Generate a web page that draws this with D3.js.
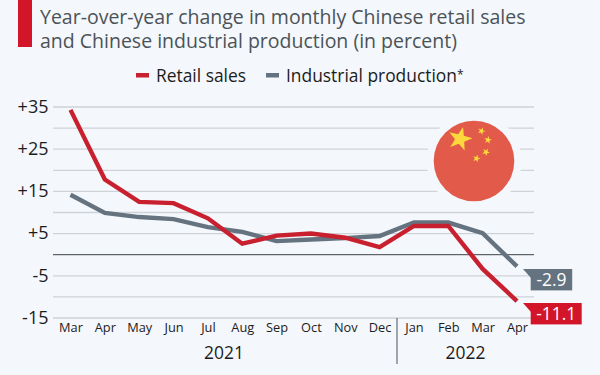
<!DOCTYPE html>
<html>
<head>
<meta charset="utf-8">
<script src="https://cdn.jsdelivr.net/npm/d3@7/dist/d3.min.js"></script>
<style>
  html, body { margin: 0; padding: 0; background: #f4f7fb; }
  svg { display: block; font-family: "Open Sans", sans-serif; }
  .domain { display: none; }
</style>
</head>
<body>
<svg id="chart"></svg>
<script>
const months = ['Mar', 'Apr', 'May', 'Jun', 'Jul', 'Aug', 'Sep', 'Oct', 'Nov', 'Dec', 'Jan', 'Feb', 'Mar', 'Apr'];
const retailSales = [34.2, 17.7, 12.4, 12.1, 8.5, 2.5, 4.4, 4.9, 3.9, 1.7, 6.7, 6.7, -3.5, -11.1];
const industrialProduction = [14.1, 9.8, 8.8, 8.3, 6.4, 5.3, 3.1, 3.5, 3.8, 4.3, 7.5, 7.5, 5.0, -2.9];
const gridTicks = [35, 30, 25, 20, 15, 10, 5, 0, -5, -10, -15];
const labelTicks = [35, 25, 15, 5, -5, -15];
const titleLines = ['Year-over-year change in monthly Chinese retail sales', 'and Chinese industrial production (in percent)'];

const RED = '#c8202f';
const GREY = '#64737f';
const width = 600, height = 375;

const svg = d3.select('#chart').attr('width', width).attr('height', height);

const xScale = d3.scaleLinear().domain([0, months.length - 1]).range([70.5, 517]);
const yScale = d3.scaleLinear().domain([-15, 35]).range([317.5, 106.5]);

// Title block
svg.append('rect').attr('x', 18).attr('y', 0).attr('width', 14).attr('height', 47).attr('fill', '#d3152a');
titleLines.forEach((t, i) => {
  svg.append('text')
    .attr('x', 40)
    .attr('y', 23.5 + i * 24)
    .attr('font-size', '19.5px')
    .attr('fill', '#4b5358')
    .text(t);
});

// Legend
const legend = [
  { label: 'Retail sales', color: RED, x: 136 },
  { label: 'Industrial production', color: GREY, x: 266, note: '*' }
];
legend.forEach(d => {
  svg.append('rect').attr('x', d.x).attr('y', 73).attr('width', 13).attr('height', 4.5).attr('fill', d.color);
  const label = svg.append('text')
    .attr('x', d.x + 20)
    .attr('y', 81.5)
    .attr('font-size', '17.4px')
    .attr('fill', '#1c1c1c')
    .text(d.label);
  if (d.note) {
    label.append('tspan').attr('font-size', '12px').attr('dy', -3).text(d.note);
  }
});

// Grid
svg.append('g')
  .attr('transform', 'translate(53, 0)')
  .call(d3.axisLeft(yScale).tickValues(gridTicks).tickSize(-481).tickFormat(''))
  .call(g => g.selectAll('.tick line')
    .attr('stroke', d => d === 0 ? '#3c4347' : '#cfd3d7')
    .attr('stroke-width', d => d === 0 ? 1 : 1.3));

// Y labels
svg.append('g')
  .attr('transform', 'translate(48.5, 0)')
  .call(d3.axisLeft(yScale).tickValues(labelTicks).tickSize(0).tickPadding(0)
    .tickFormat(d => d > 0 ? `+${d}` : `${d}`))
  .call(g => g.selectAll('text')
    .attr('font-family', '"Open Sans", sans-serif')
    .attr('font-size', '18px')
    .attr('fill', '#1c1c1c'));

// Month labels
svg.append('g')
  .attr('transform', 'translate(0, 322.5)')
  .call(d3.axisBottom(xScale).tickValues(d3.range(months.length)).tickSize(0).tickPadding(0)
    .tickFormat(i => months[i]))
  .call(g => g.selectAll('text')
    .attr('font-family', '"Open Sans", sans-serif')
    .attr('font-size', '12.8px')
    .attr('fill', '#1c1c1c'));

// Years
svg.append('line').attr('x1', 397).attr('x2', 397).attr('y1', 318).attr('y2', 364)
  .attr('stroke', '#4b5358').attr('stroke-width', 1);
[{ t: '2021', x: 224 }, { t: '2022', x: 465.5 }].forEach(d => {
  svg.append('text')
    .attr('x', d.x)
    .attr('y', 359)
    .attr('text-anchor', 'middle')
    .attr('font-size', '17.4px')
    .attr('fill', '#1c1c1c')
    .text(d.t);
});

// Flag
function star(cx, cy, r, rot) {
  const pts = d3.range(10).map(i => {
    const a = rot + i * Math.PI / 5;
    const rad = i % 2 ? r * 0.4 : r;
    return [cx + rad * Math.sin(a), cy - rad * Math.cos(a)];
  });
  return d3.line()(pts) + 'Z';
}
svg.append('circle').attr('cx', 474).attr('cy', 161).attr('r', 47.5).attr('fill', '#f4f7fb');
svg.append('circle').attr('cx', 474).attr('cy', 161).attr('r', 40.3).attr('fill', '#e25a49');
[
  [460, 139, 12.5, 0.25],
  [481.5, 131, 4, 0.4],
  [488, 140, 4, 0.2],
  [486, 152, 4, 0.5],
  [476.5, 158.5, 4, 0.3]
].forEach(s => {
  svg.append('path').attr('d', star(s[0], s[1], s[2], s[3])).attr('fill', '#fbd83b');
});

// Lines
const line = d3.line().x((d, i) => xScale(i)).y(d => yScale(d));
[{ v: industrialProduction, c: GREY }, { v: retailSales, c: RED }].forEach(s => {
  svg.append('path')
    .attr('d', line(s.v))
    .attr('fill', 'none')
    .attr('stroke', s.c)
    .attr('stroke-width', 4.4)
    .attr('stroke-linejoin', 'miter');
});

// End labels
const endTags = [
  { v: industrialProduction[13], c: GREY, w: 41.5, top: 269 },
  { v: retailSales[13], c: '#d3152a', w: 51, top: 303 }
];
endTags.forEach(d => {
  svg.append('rect').attr('x', 530.7).attr('y', d.top).attr('width', d.w).attr('height', 21.4).attr('fill', d.c);
  svg.append('path')
    .attr('d', `M523,${d.top}L531,${d.top}L531,${d.top + 9}Z`)
    .attr('fill', d.c);
  svg.append('text')
    .attr('x', 530.7 + d.w / 2)
    .attr('y', d.top + 17)
    .attr('text-anchor', 'middle')
    .attr('font-size', '17.4px')
    .attr('fill', '#fff')
    .text(d.v);
});
</script>
</body>
</html>
